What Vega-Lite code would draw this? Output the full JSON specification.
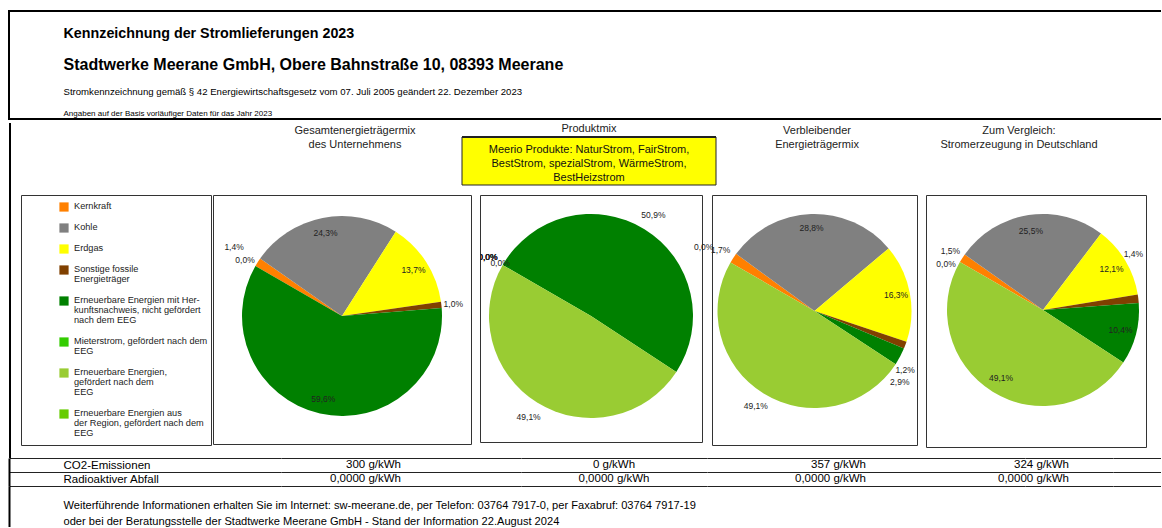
{
  "$schema": "https://vega.github.io/schema/vega-lite/v6.json",
  "padding": {"left": 8, "top": 10, "right": -12, "bottom": -3},
  "background": "white",
  "spacing": 0,
  "config": {
    "font": "Liberation Sans",
    "view": {"stroke": null},
    "locale": {"number": {"decimal": ",", "thousands": ".", "grouping": [3], "currency": ["", " €"]}},
    "title": {"font": "Liberation Sans", "fontSize": 11, "fontWeight": "normal", "color": "#222", "lineHeight": 14, "anchor": "middle", "frame": "group"},
    "text": {"font": "Liberation Sans"}
  },
  "datasets": {
    "mix": [
      {"mix": "Gesamtenergieträgermix des Unternehmens", "nr": 1, "energietraeger": "Kernkraft", "anteil": 0.014},
      {"mix": "Gesamtenergieträgermix des Unternehmens", "nr": 2, "energietraeger": "Kohle", "anteil": 0.243},
      {"mix": "Gesamtenergieträgermix des Unternehmens", "nr": 3, "energietraeger": "Erdgas", "anteil": 0.137},
      {"mix": "Gesamtenergieträgermix des Unternehmens", "nr": 4, "energietraeger": "Sonstige fossile Energieträger", "anteil": 0.010},
      {"mix": "Gesamtenergieträgermix des Unternehmens", "nr": 5, "energietraeger": "Erneuerbare Energien mit Herkunftsnachweis, nicht gefördert nach dem EEG", "anteil": 0.596},
      {"mix": "Gesamtenergieträgermix des Unternehmens", "nr": 6, "energietraeger": "Mieterstrom, gefördert nach dem EEG", "anteil": 0},
      {"mix": "Gesamtenergieträgermix des Unternehmens", "nr": 7, "energietraeger": "Erneuerbare Energien, gefördert nach dem EEG", "anteil": 0},
      {"mix": "Gesamtenergieträgermix des Unternehmens", "nr": 8, "energietraeger": "Erneuerbare Energien aus der Region, gefördert nach dem EEG", "anteil": 0},
      {"mix": "Produktmix", "nr": 1, "energietraeger": "Kernkraft", "anteil": 0},
      {"mix": "Produktmix", "nr": 2, "energietraeger": "Kohle", "anteil": 0},
      {"mix": "Produktmix", "nr": 3, "energietraeger": "Erdgas", "anteil": 0},
      {"mix": "Produktmix", "nr": 4, "energietraeger": "Sonstige fossile Energieträger", "anteil": 0},
      {"mix": "Produktmix", "nr": 5, "energietraeger": "Erneuerbare Energien mit Herkunftsnachweis, nicht gefördert nach dem EEG", "anteil": 0.509},
      {"mix": "Produktmix", "nr": 6, "energietraeger": "Mieterstrom, gefördert nach dem EEG", "anteil": 0},
      {"mix": "Produktmix", "nr": 7, "energietraeger": "Erneuerbare Energien, gefördert nach dem EEG", "anteil": 0.491},
      {"mix": "Produktmix", "nr": 8, "energietraeger": "Erneuerbare Energien aus der Region, gefördert nach dem EEG", "anteil": 0},
      {"mix": "Verbleibender Energieträgermix", "nr": 1, "energietraeger": "Kernkraft", "anteil": 0.017},
      {"mix": "Verbleibender Energieträgermix", "nr": 2, "energietraeger": "Kohle", "anteil": 0.288},
      {"mix": "Verbleibender Energieträgermix", "nr": 3, "energietraeger": "Erdgas", "anteil": 0.163},
      {"mix": "Verbleibender Energieträgermix", "nr": 4, "energietraeger": "Sonstige fossile Energieträger", "anteil": 0.012},
      {"mix": "Verbleibender Energieträgermix", "nr": 5, "energietraeger": "Erneuerbare Energien mit Herkunftsnachweis, nicht gefördert nach dem EEG", "anteil": 0.029},
      {"mix": "Verbleibender Energieträgermix", "nr": 6, "energietraeger": "Mieterstrom, gefördert nach dem EEG", "anteil": 0},
      {"mix": "Verbleibender Energieträgermix", "nr": 7, "energietraeger": "Erneuerbare Energien, gefördert nach dem EEG", "anteil": 0.491},
      {"mix": "Verbleibender Energieträgermix", "nr": 8, "energietraeger": "Erneuerbare Energien aus der Region, gefördert nach dem EEG", "anteil": 0},
      {"mix": "Stromerzeugung in Deutschland", "nr": 1, "energietraeger": "Kernkraft", "anteil": 0.015},
      {"mix": "Stromerzeugung in Deutschland", "nr": 2, "energietraeger": "Kohle", "anteil": 0.255},
      {"mix": "Stromerzeugung in Deutschland", "nr": 3, "energietraeger": "Erdgas", "anteil": 0.121},
      {"mix": "Stromerzeugung in Deutschland", "nr": 4, "energietraeger": "Sonstige fossile Energieträger", "anteil": 0.014},
      {"mix": "Stromerzeugung in Deutschland", "nr": 5, "energietraeger": "Erneuerbare Energien mit Herkunftsnachweis, nicht gefördert nach dem EEG", "anteil": 0.104},
      {"mix": "Stromerzeugung in Deutschland", "nr": 6, "energietraeger": "Mieterstrom, gefördert nach dem EEG", "anteil": 0},
      {"mix": "Stromerzeugung in Deutschland", "nr": 7, "energietraeger": "Erneuerbare Energien, gefördert nach dem EEG", "anteil": 0.491},
      {"mix": "Stromerzeugung in Deutschland", "nr": 8, "energietraeger": "Erneuerbare Energien aus der Region, gefördert nach dem EEG", "anteil": 0}
    ],
    "emissionen": [
      {"mix": "Gesamtenergieträgermix des Unternehmens", "zeile": "CO2-Emissionen", "wert": 300, "einheit": "g/kWh"},
      {"mix": "Gesamtenergieträgermix des Unternehmens", "zeile": "Radioaktiver Abfall", "wert": 0, "einheit": "g/kWh"},
      {"mix": "Produktmix", "zeile": "CO2-Emissionen", "wert": 0, "einheit": "g/kWh"},
      {"mix": "Produktmix", "zeile": "Radioaktiver Abfall", "wert": 0, "einheit": "g/kWh"},
      {"mix": "Verbleibender Energieträgermix", "zeile": "CO2-Emissionen", "wert": 357, "einheit": "g/kWh"},
      {"mix": "Verbleibender Energieträgermix", "zeile": "Radioaktiver Abfall", "wert": 0, "einheit": "g/kWh"},
      {"mix": "Stromerzeugung in Deutschland", "zeile": "CO2-Emissionen", "wert": 324, "einheit": "g/kWh"},
      {"mix": "Stromerzeugung in Deutschland", "zeile": "Radioaktiver Abfall", "wert": 0, "einheit": "g/kWh"}
    ],
    "kopf": [
      {"zeile": "Kennzeichnung der Stromlieferungen 2023"},
      {"zeile": "Stadtwerke Meerane GmbH, Obere Bahnstraße 10, 08393 Meerane"},
      {"zeile": "Stromkennzeichnung gemäß § 42 Energiewirtschaftsgesetz vom 07. Juli 2005 geändert 22. Dezember 2023"},
      {"zeile": "Angaben auf der Basis vorläufiger Daten für das Jahr 2023"}
    ],
    "fuss": [
      {"zeile": "Weiterführende Informationen erhalten Sie im Internet: sw-meerane.de, per Telefon: 03764 7917-0, per Faxabruf: 03764 7917-19"},
      {"zeile": "oder bei der Beratungsstelle der Stadtwerke Meerane GmbH - Stand der Information 22.August 2024"}
    ],
    "produkte": [
      {"produkte": "Meerio Produkte: NaturStrom, FairStrom,\nBestStrom, spezialStrom, WärmeStrom,\nBestHeizstrom"}
    ]
  },
  "vconcat": [
    {
      "width": 1162,
      "height": 108,
      "view": {"stroke": "#000", "strokeWidth": 2},
      "data": {"name": "kopf"},
      "mark": {"type": "text"},
      "encoding": {
        "y": {
          "field": "zeile", "type": "nominal", "sort": null,
          "scale": {"range": [22, 105], "padding": 0},
          "axis": {
            "title": null, "domain": false, "ticks": false, "tickSize": 0, "grid": false,
            "labelAlign": "left", "labelBaseline": "middle", "labelPadding": -54, "labelLimit": 1100, "labelColor": "#000",
            "labelFontSize": {"condition": [
              {"test": "indexof(datum.value, 'Kennzeichnung') == 0", "value": 14.3},
              {"test": "indexof(datum.value, 'Stadtwerke') == 0", "value": 16},
              {"test": "indexof(datum.value, 'Stromkennzeichnung') == 0", "value": 9.6}
            ], "value": 8},
            "labelFontWeight": {"condition": {"test": "indexof(datum.value, 'Kennzeichnung') == 0 || indexof(datum.value, 'Stadtwerke') == 0", "value": "bold"}, "value": "normal"},
            "labelOffset": {"condition": [
              {"test": "indexof(datum.value, 'Stadtwerke') == 0", "value": 4},
              {"test": "indexof(datum.value, 'Stromkennzeichnung') == 0", "value": 3},
              {"test": "indexof(datum.value, 'Angaben') == 0", "value": -2.5}
            ], "value": 0}
          }
        }
      }
    },
    {
      "spacing": -7,
      "vconcat": [
        {
          "spacing": 9,
          "hconcat": [
            {
              "width": 2, "height": 335,
              "view": {"fill": "#000", "stroke": null},
              "data": {"values": []},
              "mark": "text"
            },
            {
              "spacing": 8,
              "vconcat": [
                {
                  "spacing": 0,
                  "bounds": "flush",
                  "hconcat": [
                    {"width": 227, "height": 62, "data": {"values": []}, "mark": "text"},
                    {"width": 214, "height": 62, "title": {"text": ["Gesamtenergieträgermix", "des Unternehmens"], "offset": -27}, "data": {"values": []}, "mark": "text"},
                    {
                      "width": 254, "height": 62,
                      "title": {"text": "Produktmix", "offset": -11},
                      "data": {"name": "produkte"},
                      "layer": [
                        {
                          "mark": {
                            "type": "rect",
                            "strokeWidth": 1,
                            "fill": {"gradient": "linear", "x1": 0, "y1": 0, "x2": 0, "y2": 1, "stops": [
                              {"offset": 0, "color": "rgba(255,255,255,0)"},
                              {"offset": 0.2177, "color": "rgba(255,255,255,0)"},
                              {"offset": 0.2177, "color": "#222222"},
                              {"offset": 0.2339, "color": "#222222"},
                              {"offset": 0.2339, "color": "#FFFF00"},
                              {"offset": 1, "color": "#FFFF00"}
                            ]},
                            "stroke": {"gradient": "linear", "x1": 0, "y1": 0, "x2": 0, "y2": 1, "stops": [
                              {"offset": 0, "color": "rgba(255,255,255,0)"},
                              {"offset": 0.2258, "color": "rgba(255,255,255,0)"},
                              {"offset": 0.2258, "color": "#222222"},
                              {"offset": 1, "color": "#222222"}
                            ]}
                          },
                          "encoding": {}
                        },
                        {
                          "mark": {"type": "text", "lineBreak": "\n", "fontSize": 11, "lineHeight": 14, "dy": -4, "color": "#111"},
                          "encoding": {"text": {"field": "produkte"}}
                        }
                      ]
                    },
                    {"width": 202, "height": 62, "title": {"text": ["Verbleibender", "Energieträgermix"], "offset": -27}, "data": {"values": []}, "mark": "text"},
                    {"width": 202, "height": 62, "title": {"text": ["Zum Vergleich:", "Stromerzeugung in Deutschland"], "offset": -27}, "data": {"values": []}, "mark": "text"}
                  ]
                },
                {
                  "spacing": 0,
                  "bounds": "flush",
                  "resolve": {"scale": {"color": "independent", "theta": "independent"}, "legend": {"color": "independent"}},
                  "hconcat": [
                    {
                      "width": 190, "height": 250,
                      "view": {"stroke": "#333", "strokeWidth": 1},
                      "data": {"name": "mix"},
                      "transform": [{"filter": "datum.mix == 'Produktmix'"}],
                      "mark": {"type": "square", "opacity": 0, "clip": true},
                      "encoding": {
                        "color": {
                          "field": "energietraeger", "type": "nominal",
                          "scale": {
                            "domain": ["Kernkraft", "Kohle", "Erdgas", "Sonstige fossile Energieträger", "Erneuerbare Energien mit Herkunftsnachweis, nicht gefördert nach dem EEG", "Mieterstrom, gefördert nach dem EEG", "Erneuerbare Energien, gefördert nach dem EEG", "Erneuerbare Energien aus der Region, gefördert nach dem EEG"],
                            "range": ["#FF8000", "#808080", "#FFFF00", "#804000", "#008000", "#33CC00", "#99CC33", "#66CC00"]
                          },
                          "legend": {
                            "orient": "none", "legendX": 38, "legendY": 7, "direction": "vertical", "title": null, "padding": 0,
                            "symbolType": "square", "symbolSize": 85, "symbolStrokeWidth": 0, "symbolOpacity": 1,
                            "labelFont": "Liberation Sans", "labelFontSize": 9.2, "labelColor": "#222", "labelLimit": 200, "labelOffset": 5,
                            "rowPadding": 11,
                            "labelExpr": "datum.label == 'Sonstige fossile Energieträger' ? ['Sonstige fossile', 'Energieträger'] : datum.label == 'Erneuerbare Energien mit Herkunftsnachweis, nicht gefördert nach dem EEG' ? ['Erneuerbare Energien mit Her-', 'kunftsnachweis, nicht gefördert', 'nach dem EEG'] : datum.label == 'Mieterstrom, gefördert nach dem EEG' ? ['Mieterstrom, gefördert nach dem', 'EEG'] : datum.label == 'Erneuerbare Energien, gefördert nach dem EEG' ? ['Erneuerbare Energien,', 'gefördert nach dem', 'EEG'] : datum.label == 'Erneuerbare Energien aus der Region, gefördert nach dem EEG' ? ['Erneuerbare Energien aus', 'der Region, gefördert nach dem', 'EEG'] : datum.label",
                            "encode": {
                              "symbols": {"update": {"y": {"value": 5}}},
                              "labels": {"update": {"y": {"value": 0}, "baseline": {"value": "top"}, "lineHeight": {"value": 10.2}}}
                            }
                          }
                        }
                      }
                    },
                    {"width": 2, "height": 10, "data": {"values": []}, "mark": "text"},
                    {
                      "width": 258, "height": 249,
                      "view": {"stroke": "#333", "strokeWidth": 1},
                      "data": {"name": "mix"},
                      "transform": [{"filter": "datum.mix == 'Gesamtenergieträgermix des Unternehmens'"}],
                      "encoding": {
                        "theta": {"field": "anteil", "type": "quantitative", "stack": true, "scale": {"range": [-1.0472, 5.236]}},
                        "order": {"field": "nr", "type": "quantitative", "sort": "ascending"}
                      },
                      "layer": [
                        {"mark": {"type": "arc", "radius": 100, "yOffset": -3.5, "clip": true}, "encoding": {"color": {"field": "energietraeger", "type": "nominal", "scale": {"domain": ["Kernkraft", "Kohle", "Erdgas", "Sonstige fossile Energieträger", "Erneuerbare Energien mit Herkunftsnachweis, nicht gefördert nach dem EEG", "Mieterstrom, gefördert nach dem EEG", "Erneuerbare Energien, gefördert nach dem EEG", "Erneuerbare Energien aus der Region, gefördert nach dem EEG"], "range": ["#FF8000", "#808080", "#FFFF00", "#804000", "#008000", "#33CC00", "#99CC33", "#66CC00"]}, "legend": null}}},
                        {"mark": {"type": "text", "clip": true, "yOffset": -3.5, "fontSize": 8.5, "fill": "#222", "radius": {"expr": "indexof([2, 3, 5], datum.nr) >= 0 ? 85 : datum.nr == 1 ? 128 : indexof([4, 8], datum.nr) >= 0 ? 112 : 0"}}, "encoding": {"text": {"condition": {"test": "indexof([1, 2, 3, 4, 5, 8], datum.nr) >= 0", "field": "anteil", "format": ".1%"}, "value": ""}}}
                      ]
                    },
                    {"width": 9, "height": 10, "data": {"values": []}, "mark": "text"},
                    {
                      "width": 222, "height": 247,
                      "view": {"stroke": "#333", "strokeWidth": 1},
                      "data": {"name": "mix"},
                      "transform": [{"filter": "datum.mix == 'Produktmix'"}],
                      "encoding": {
                        "theta": {"field": "anteil", "type": "quantitative", "stack": true, "scale": {"range": [-1.0472, 5.236]}},
                        "order": {"field": "nr", "type": "quantitative", "sort": "ascending"}
                      },
                      "layer": [
                        {"mark": {"type": "arc", "radius": 102, "yOffset": -2.5, "clip": true}, "encoding": {"color": {"field": "energietraeger", "type": "nominal", "scale": {"domain": ["Kernkraft", "Kohle", "Erdgas", "Sonstige fossile Energieträger", "Erneuerbare Energien mit Herkunftsnachweis, nicht gefördert nach dem EEG", "Mieterstrom, gefördert nach dem EEG", "Erneuerbare Energien, gefördert nach dem EEG", "Erneuerbare Energien aus der Region, gefördert nach dem EEG"], "range": ["#FF8000", "#808080", "#FFFF00", "#804000", "#008000", "#33CC00", "#99CC33", "#66CC00"]}, "legend": null}}},
                        {"mark": {"type": "text", "clip": true, "yOffset": -2.5, "fontSize": 8.5, "fill": "#222", "radius": {"expr": "datum.nr == 8 ? 105 : datum.nr == 6 ? 0 : 119"}}, "encoding": {"text": {"condition": {"test": "datum.nr != 6", "field": "anteil", "format": ".1%"}, "value": ""}}}
                      ]
                    },
                    {"width": 10, "height": 10, "data": {"values": []}, "mark": "text"},
                    {
                      "width": 205, "height": 250,
                      "view": {"stroke": "#333", "strokeWidth": 1},
                      "data": {"name": "mix"},
                      "transform": [{"filter": "datum.mix == 'Verbleibender Energieträgermix'"}],
                      "encoding": {
                        "theta": {"field": "anteil", "type": "quantitative", "stack": true, "scale": {"range": [-1.0472, 5.236]}},
                        "order": {"field": "nr", "type": "quantitative", "sort": "ascending"}
                      },
                      "layer": [
                        {"mark": {"type": "arc", "radius": 97, "yOffset": -9, "clip": true}, "encoding": {"color": {"field": "energietraeger", "type": "nominal", "scale": {"domain": ["Kernkraft", "Kohle", "Erdgas", "Sonstige fossile Energieträger", "Erneuerbare Energien mit Herkunftsnachweis, nicht gefördert nach dem EEG", "Mieterstrom, gefördert nach dem EEG", "Erneuerbare Energien, gefördert nach dem EEG", "Erneuerbare Energien aus der Region, gefördert nach dem EEG"], "range": ["#FF8000", "#808080", "#FFFF00", "#804000", "#008000", "#33CC00", "#99CC33", "#66CC00"]}, "legend": null}}},
                        {"mark": {"type": "text", "yOffset": -9, "fontSize": 8.5, "fill": "#222",
                          "radius": {"expr": "indexof([2, 3], datum.nr) >= 0 ? 83 : indexof([1, 7], datum.nr) >= 0 ? 112 : indexof([4, 5], datum.nr) >= 0 ? 100 : datum.nr == 8 ? 128 : 0"},
                          "dx": {"expr": "indexof([4, 5], datum.nr) >= 0 ? -3 : 0"},
                          "dy": {"expr": "indexof([4, 5], datum.nr) >= 0 ? 24 : 0"}},
                         "encoding": {"text": {"condition": {"test": "datum.nr != 6", "field": "anteil", "format": ".1%"}, "value": ""}}}
                      ]
                    },
                    {"width": 9, "height": 10, "data": {"values": []}, "mark": "text"},
                    {
                      "width": 220, "height": 252,
                      "view": {"stroke": "#333", "strokeWidth": 1},
                      "data": {"name": "mix"},
                      "transform": [{"filter": "datum.mix == 'Stromerzeugung in Deutschland'"}],
                      "encoding": {
                        "theta": {"field": "anteil", "type": "quantitative", "stack": true, "scale": {"range": [-1.0472, 5.236]}},
                        "order": {"field": "nr", "type": "quantitative", "sort": "ascending"}
                      },
                      "layer": [
                        {"mark": {"type": "arc", "radius": 96, "xOffset": 7, "yOffset": -11, "clip": true}, "encoding": {"color": {"field": "energietraeger", "type": "nominal", "scale": {"domain": ["Kernkraft", "Kohle", "Erdgas", "Sonstige fossile Energieträger", "Erneuerbare Energien mit Herkunftsnachweis, nicht gefördert nach dem EEG", "Mieterstrom, gefördert nach dem EEG", "Erneuerbare Energien, gefördert nach dem EEG", "Erneuerbare Energien aus der Region, gefördert nach dem EEG"], "range": ["#FF8000", "#808080", "#FFFF00", "#804000", "#008000", "#33CC00", "#99CC33", "#66CC00"]}, "legend": null}}},
                        {"mark": {"type": "text", "clip": true, "xOffset": 7, "yOffset": -11, "fontSize": 8.5, "fill": "#222",
                          "radius": {"expr": "indexof([2, 3, 5, 7], datum.nr) >= 0 ? 80 : datum.nr == 1 ? 110 : datum.nr == 4 ? 100 : datum.nr == 8 ? 112 : 0"},
                          "dx": {"expr": "datum.nr == 4 ? -9 : 0"},
                          "dy": {"expr": "datum.nr == 4 ? -44 : datum.nr == 8 ? 10 : 0"}},
                         "encoding": {"text": {"condition": {"test": "datum.nr != 6", "field": "anteil", "format": ".1%"}, "value": ""}}}
                      ]
                    }
                  ]
                }
              ]
            }
          ]
        },
        {
          "spacing": 0,
          "vconcat": [
            {
              "spacing": 0,
              "bounds": "flush",
              "hconcat": [
                {
                  "width": 272, "height": 28,
                  "data": {"name": "emissionen"},
                  "transform": [{"filter": "datum.mix == 'Produktmix'"}],
                  "mark": {"type": "text"},
                  "encoding": {"y": {"field": "zeile", "type": "nominal", "sort": null, "scale": {"paddingInner": 0, "paddingOuter": 0},
                    "axis": {"title": null, "labels": true, "ticks": false, "tickSize": 0, "domain": true, "domainColor": "#000", "domainWidth": 2, "grid": true, "tickBand": "extent", "gridColor": "#222", "gridWidth": 1, "labelAlign": "left", "labelBaseline": "middle", "labelPadding": -54, "labelFontSize": 11.5, "labelColor": "#000", "labelLimit": 300}}}
                },
                {
                  "width": 240, "height": 28,
                  "data": {"name": "emissionen"},
                  "transform": [{"filter": "datum.mix == 'Gesamtenergieträgermix des Unternehmens'"}],
                  "mark": {"type": "text", "align": "right", "baseline": "middle", "fontSize": 11.5, "color": "#000", "text": {"expr": "(datum.zeile == 'CO2-Emissionen' ? format(datum.wert, 'd') : format(datum.wert, '.4f')) + ' ' + datum.einheit"}},
                  "encoding": {"y": {"field": "zeile", "type": "nominal", "sort": null, "scale": {"paddingInner": 0, "paddingOuter": 0},
                    "axis": {"title": null, "labels": false, "ticks": false, "domain": false, "grid": true, "tickBand": "extent", "gridColor": "#222", "gridWidth": 1}}}
                },
                {
                  "width": 186, "height": 28,
                  "data": {"name": "emissionen"},
                  "transform": [{"filter": "datum.mix == 'Produktmix'"}],
                  "mark": {"type": "text", "align": "center", "baseline": "middle", "fontSize": 11.5, "color": "#000", "text": {"expr": "(datum.zeile == 'CO2-Emissionen' ? format(datum.wert, 'd') : format(datum.wert, '.4f')) + ' ' + datum.einheit"}},
                  "encoding": {"y": {"field": "zeile", "type": "nominal", "sort": null, "scale": {"paddingInner": 0, "paddingOuter": 0},
                    "axis": {"title": null, "labels": false, "ticks": false, "domain": false, "grid": true, "tickBand": "extent", "gridColor": "#222", "gridWidth": 1}}}
                },
                {
                  "width": 318, "height": 28,
                  "data": {"name": "emissionen"},
                  "transform": [{"filter": "datum.mix == 'Verbleibender Energieträgermix'"}],
                  "mark": {"type": "text", "align": "right", "baseline": "middle", "fontSize": 11.5, "color": "#000", "text": {"expr": "(datum.zeile == 'CO2-Emissionen' ? format(datum.wert, 'd') : format(datum.wert, '.4f')) + ' ' + datum.einheit"}},
                  "encoding": {"y": {"field": "zeile", "type": "nominal", "sort": null, "scale": {"paddingInner": 0, "paddingOuter": 0},
                    "axis": {"title": null, "labels": false, "ticks": false, "domain": false, "grid": true, "tickBand": "extent", "gridColor": "#222", "gridWidth": 1}}}
                },
                {
                  "width": 88, "height": 28,
                  "data": {"name": "emissionen"},
                  "transform": [{"filter": "datum.mix == 'Stromerzeugung in Deutschland'"}],
                  "mark": {"type": "text", "align": "right", "baseline": "middle", "fontSize": 11.5, "color": "#000", "text": {"expr": "(datum.zeile == 'CO2-Emissionen' ? format(datum.wert, 'd') : format(datum.wert, '.4f')) + ' ' + datum.einheit"}},
                  "encoding": {"y": {"field": "zeile", "type": "nominal", "sort": null, "scale": {"paddingInner": 0, "paddingOuter": 0},
                    "axis": {"title": null, "labels": false, "ticks": false, "domain": false, "grid": true, "tickBand": "extent", "gridColor": "#222", "gridWidth": 1}}}
                },
                {
                  "width": 60, "height": 28,
                  "data": {"name": "emissionen"},
                  "transform": [{"filter": "datum.mix == 'Produktmix'"}],
                  "mark": {"type": "text"},
                  "encoding": {"y": {"field": "zeile", "type": "nominal", "sort": null, "scale": {"paddingInner": 0, "paddingOuter": 0},
                    "axis": {"title": null, "labels": false, "ticks": false, "domain": false, "grid": true, "tickBand": "extent", "gridColor": "#222", "gridWidth": 1}}}
                }
              ]
            },
            {
              "width": 1160, "height": 44,
              "data": {"name": "fuss"},
              "mark": {"type": "text"},
              "encoding": {
                "y": {"field": "zeile", "type": "nominal", "sort": null, "scale": {"padding": 0.875, "align": 0.714},
                  "axis": {"title": null, "ticks": false, "tickSize": 0, "grid": false, "domain": true, "domainColor": "#000", "domainWidth": 2, "labelAlign": "left", "labelBaseline": "middle", "labelPadding": -54, "labelFontSize": 11.1, "labelColor": "#000", "labelLimit": 1100}}
              }
            }
          ]
        }
      ]
    }
  ]
}
